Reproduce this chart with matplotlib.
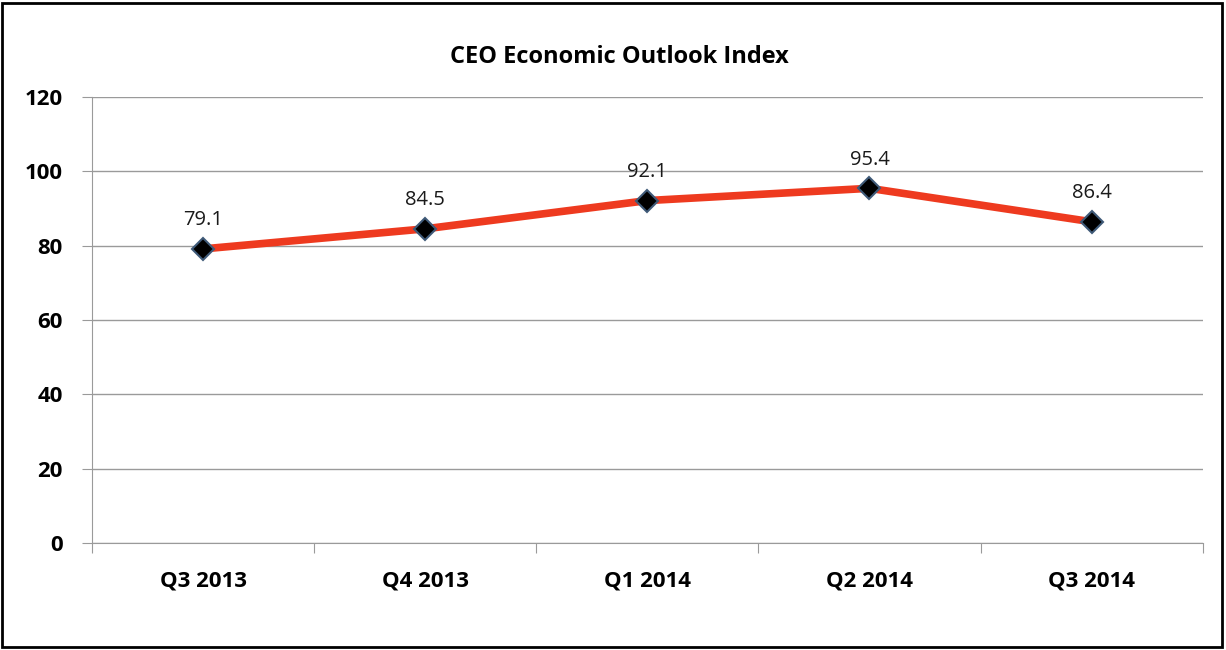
import numpy as np
import matplotlib
matplotlib.use("Agg")
from matplotlib import pyplot as plt
from matplotlib.patches import Rectangle

quarters = ["Q3 2013", "Q4 2013", "Q1 2014", "Q2 2014", "Q3 2014"]
index_vals = [79.1, 84.5, 92.1, 95.4, 86.4]
yticks = [0, 20, 40, 60, 80, 100, 120]

plt.rcParams['font.family'] = ['Open Sans', 'DejaVu Sans']

fig = plt.figure(figsize=(12.26, 6.5), dpi=100)
ax = fig.add_axes([0.075, 0.1646, 0.906, 0.6864])

x = np.arange(len(quarters))
ax.plot(x, index_vals, color='#EE3A1F', lw=5.5, zorder=3, solid_capstyle='butt')
ax.plot(x, index_vals, ls='none', marker='D', ms=11, mfc='black', mec='#3F5A78', mew=1.5, zorder=4)
for xi, v in zip(x, index_vals):
    ax.text(xi, v + 5, f"{v:.1f}", ha='center', va='bottom', fontsize=14.5, color='#1a1a1a')

ax.set_xlim(-0.5, len(quarters) - 0.5)
ax.set_ylim(0, 120)
ax.set_yticks(yticks)
ax.set_yticklabels([str(t) for t in yticks], fontsize=16, fontweight='bold')
ax.yaxis.grid(True, color='#9a9a9a', lw=1)
ax.set_axisbelow(True)

# category ticks between groups, labels at centers
ax.set_xticks(np.arange(-0.5, len(quarters)), minor=False)
ax.set_xticklabels([])
ax.set_xticks(x, minor=True)
ax.set_xticklabels(quarters, minor=True, fontsize=16, fontweight='bold')
ax.tick_params(axis='x', which='major', length=7, color='#9a9a9a', direction='out')
ax.tick_params(axis='x', which='minor', length=0, pad=20)
ax.tick_params(axis='y', length=7, color='#9a9a9a', pad=14)

for s in ['top', 'right']:
    ax.spines[s].set_visible(False)
ax.spines['left'].set_color('#9a9a9a')
ax.spines['bottom'].set_color('#9a9a9a')

fig.text(0.505, 0.912, "CEO Economic Outlook Index", ha='center', va='center',
         fontsize=17, fontweight='bold')

fig.patches.append(Rectangle((0.002, 0.004), 0.995, 0.992, transform=fig.transFigure,
                             fill=False, edgecolor='black', lw=2))

fig.savefig("out.png", dpi=100)
